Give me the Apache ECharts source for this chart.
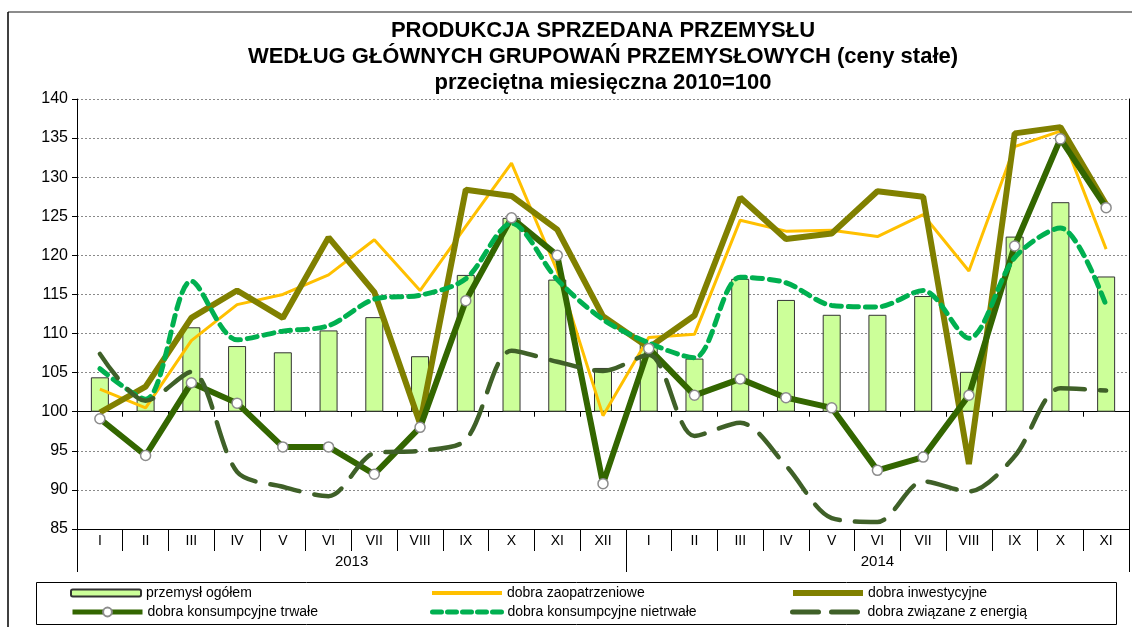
<!DOCTYPE html>
<html lang="pl">
<head>
  <meta charset="utf-8" />
  <title>Produkcja sprzedana przemysłu</title>
  <script src="https://cdn.jsdelivr.net/npm/echarts@6.0.0/dist/echarts.min.js"></script>
  <style>html, body { margin: 0; padding: 0; background: #fff; }</style>
</head>
<body>
  <div id="main" style="width:1132px;height:627px;"></div>
  <script>
    // miesiące: 2013 I-XII, 2014 I-XI
    var months = ['I', 'II', 'III', 'IV', 'V', 'VI', 'VII', 'VIII', 'IX', 'X', 'XI', 'XII',
      'I', 'II', 'III', 'IV', 'V', 'VI', 'VII', 'VIII', 'IX', 'X', 'XI'];
    var yearLabels = ['', '', '', '', '', '2013', '', '', '', '', '', '',
      '', '', '', '', '', '2014', '', '', '', '', ''];

    var ogolem = [104.4, 101.6, 110.8, 108.4, 107.6, 110.4, 112.1, 107.1, 117.5, 124.8, 116.9, 105.6,
      108.8, 106.8, 117.0, 114.3, 112.4, 112.4, 114.8, 105.1, 122.4, 126.8, 117.3];
    var zaopatrzeniowe = [102.9, 100.5, 109.1, 113.7, 115.0, 117.5, 122.0, 115.5, 123.7, 131.8, 118.0, 99.5,
      109.5, 109.9, 124.5, 123.1, 123.2, 122.4, 125.2, 118.0, 133.9, 135.9, 120.8];
    var inwestycyjne = [99.9, 103.2, 112.0, 115.5, 112.0, 122.3, 115.3, 98.5, 128.4, 127.6, 123.3, 112.2,
      108.2, 112.3, 127.4, 122.1, 122.8, 128.2, 127.5, 93.3, 135.6, 136.4, 126.5];
    var trwale = [99.1, 94.4, 103.7, 101.1, 95.5, 95.5, 92.0, 98.0, 114.2, 124.8, 120.0, 90.8,
      108.1, 102.1, 104.2, 101.8, 100.5, 92.5, 94.2, 102.1, 121.2, 134.9, 126.1];
    var nietrwale = [105.5, 101.6, 116.7, 109.2, 110.3, 111.0, 114.4, 114.9, 117.0, 124.1, 116.9, 111.8,
      108.8, 106.9, 117.2, 116.5, 113.6, 113.4, 115.5, 109.4, 119.7, 123.5, 113.6];
    var energia = [107.4, 101.4, 105.1, 92.3, 90.4, 89.2, 94.7, 95.0, 96.4, 107.8, 106.4, 105.2,
      107.3, 96.9, 98.6, 93.1, 86.4, 85.9, 91.1, 89.8, 94.3, 103.0, 102.7];

    // oś kategorii przecina oś wartości w 100 - wartości rysowane względem bazy
    var BASE = 100;
    function shift(arr) { return arr.map(function (v) { return +(v - BASE).toFixed(2); }); }

    var FONT = 'Liberation Sans, Arial, sans-serif';
    var chartDom = document.getElementById('main');
    var myChart = echarts.init(chartDom, null, { renderer: 'canvas' });

    // jedna pozycja legendy = jeden komponent (układ w 3 kolumnach)
    function legendItem(left, row, name, opts) {
      var h = opts.itemHeight || 7;
      return {
        left: left,
        top: (row === 0 ? 594 : 613) - Math.max(h, 16) / 2,
        itemWidth: 70,
        itemHeight: h,
        padding: 0,
        textStyle: { fontSize: 14, fontFamily: FONT, color: '#000' },
        lineStyle: opts.lineStyle || {},
        itemStyle: opts.itemStyle || {},
        data: [{ name: name, itemStyle: opts.hideSymbol ? { opacity: 0 } : undefined }]
      };
    }

    var option = {
      animation: false,
      backgroundColor: '#fff',
      textStyle: { fontFamily: FONT, color: '#000' },
      title: {
        text: 'PRODUKCJA SPRZEDANA PRZEMYSŁU\nWEDŁUG GŁÓWNYCH GRUPOWAŃ PRZEMYSŁOWYCH (ceny stałe)\nprzeciętna miesięczna 2010=100',
        left: 603,
        top: 18,
        textAlign: 'center',
        padding: 0,
        textStyle: { fontFamily: FONT, fontSize: 22, fontWeight: 'bold', lineHeight: 26, color: '#000' }
      },
      grid: { left: 77, right: 3, top: 99, bottom: 98 },
      xAxis: [
        {
          // linia przy 100
          type: 'category',
          data: months,
          axisLine: { onZero: true, onZeroAxisIndex: 0, lineStyle: { color: '#000', width: 1 } },
          axisTick: { show: true, length: 5, lineStyle: { color: '#000' } },
          axisLabel: { show: false },
          splitLine: { show: false }
        },
        {
          type: 'category',
          data: months,
          position: 'bottom',
          axisLine: { onZero: false, lineStyle: { color: '#000', width: 1 } },
          axisTick: { show: true, length: 22, lineStyle: { color: '#000' } },
          axisLabel: { interval: 0, margin: 5, fontSize: 14, color: '#000', fontFamily: FONT },
          splitLine: { show: false }
        },
        {
          type: 'category',
          data: yearLabels,
          position: 'bottom',
          axisLine: { onZero: false, show: false },
          axisTick: {
            show: true, length: 43, lineStyle: { color: '#000' },
            interval: function (i) { return i === 0 || i === 12; }
          },
          axisLabel: {
            interval: 0, margin: 25, fontSize: 15, color: '#000', fontFamily: FONT,
            formatter: function (v, i) { return i === 5 ? '{s|' + v + '}' : v; },
            rich: { s: { padding: [0, 0, 0, 46], fontSize: 15, fontFamily: FONT, color: '#000' } }
          },
          splitLine: { show: false }
        }
      ],
      yAxis: [
        {
          type: 'value',
          min: -15,
          max: 40,
          interval: 5,
          axisLine: { show: true, lineStyle: { color: '#000' } },
          axisTick: { show: true, length: 5, lineStyle: { color: '#000' } },
          axisLabel: {
            fontSize: 16, color: '#000', margin: 9, fontFamily: FONT,
            formatter: function (v) { return v + BASE; }
          },
          splitLine: { show: true, lineStyle: { color: '#8a8a8a', width: 1, type: [2, 2] } }
        },
        {
          type: 'value',
          position: 'right',
          min: -15,
          max: 40,
          interval: 5,
          axisLine: { show: true, lineStyle: { color: '#000' } },
          axisTick: { show: false },
          axisLabel: { show: false },
          splitLine: { show: false }
        }
      ],
      legend: [
        legendItem(70, 0, 'przemysł ogółem', { itemHeight: 7 }),
        legendItem(70, 1, 'dobra konsumpcyjne trwałe', { itemHeight: 11, lineStyle: { width: 5 } }),
        legendItem(430, 0, 'dobra zaopatrzeniowe', { hideSymbol: true, lineStyle: { width: 4 } }),
        legendItem(430, 1, 'dobra konsumpcyjne nietrwałe', { hideSymbol: true, lineStyle: { width: 5, type: [9, 6] } }),
        legendItem(790, 0, 'dobra inwestycyjne', { hideSymbol: true, lineStyle: { width: 6 } }),
        legendItem(790, 1, 'dobra związane z energią', { hideSymbol: true, lineStyle: { width: 5, type: [26, 13] } })
      ],
      graphic: [
        { type: 'line', shape: { x1: 8, y1: 12, x2: 1132, y2: 12 }, style: { stroke: '#8c8c8c', lineWidth: 2 }, silent: true },
        { type: 'line', shape: { x1: 8, y1: 12, x2: 8, y2: 627 }, style: { stroke: '#000', lineWidth: 1.5 }, silent: true },
        { type: 'rect', shape: { x: 36.5, y: 582.5, width: 1080, height: 42 }, style: { fill: 'none', stroke: '#000', lineWidth: 1 }, silent: true, z: -1 }
      ],
      series: [
        {
          name: 'przemysł ogółem',
          type: 'bar',
          data: shift(ogolem),
          barWidth: 18,
          itemStyle: { color: '#CCFF99', borderColor: '#333', borderWidth: 1 }
        },
        {
          name: 'dobra zaopatrzeniowe',
          type: 'line',
          data: shift(zaopatrzeniowe),
          symbol: 'none',
          color: '#FFC000',
          lineStyle: { color: '#FFC000', width: 3 }
        },
        {
          name: 'dobra inwestycyjne',
          type: 'line',
          data: shift(inwestycyjne),
          symbol: 'none',
          color: '#808000',
          lineStyle: { color: '#808000', width: 6 }
        },
        {
          name: 'dobra konsumpcyjne trwałe',
          type: 'line',
          data: shift(trwale),
          symbol: 'circle',
          symbolSize: 10,
          color: '#336600',
          lineStyle: { color: '#336600', width: 6 },
          itemStyle: { color: '#fff', borderColor: '#8c8c8c', borderWidth: 1.5 }
        },
        {
          name: 'dobra konsumpcyjne nietrwałe',
          type: 'line',
          data: shift(nietrwale),
          symbol: 'none',
          smooth: 0.3,
          color: '#00B050',
          lineStyle: { color: '#00B050', width: 5, type: [10, 7], cap: 'round' }
        },
        {
          name: 'dobra związane z energią',
          type: 'line',
          data: shift(energia),
          symbol: 'none',
          smooth: 0.3,
          color: '#3F6028',
          lineStyle: { color: '#3F6028', width: 4.5, type: [30, 15], cap: 'round' }
        }
      ]
    };

    myChart.setOption(option);
  </script>
</body>
</html>
